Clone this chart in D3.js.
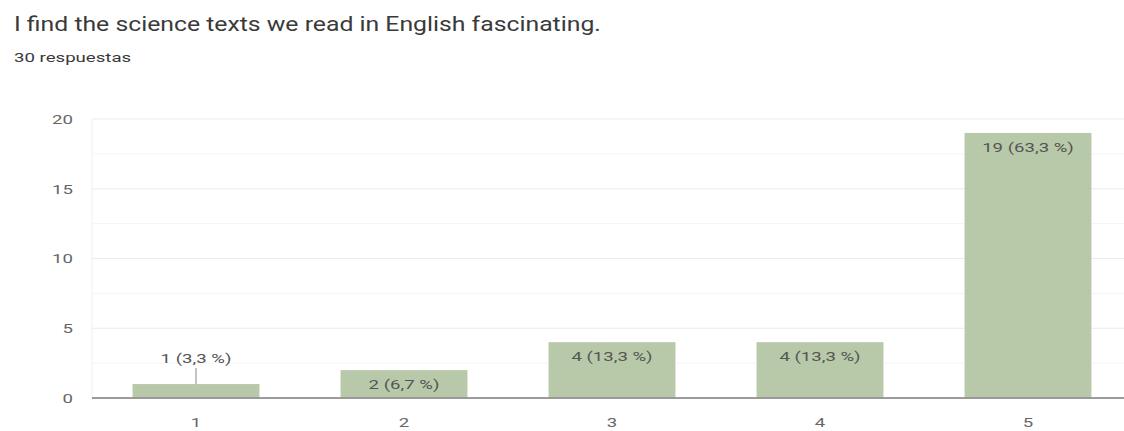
<!DOCTYPE html>
<html>
<head>
<meta charset="utf-8">
<script src="https://cdn.jsdelivr.net/npm/d3@7"></script>
<style>
  body { margin: 0; background: #fff; }
  text { font-family: Roboto, "Noto Sans", sans-serif; }
</style>
</head>
<body>
<svg id="chart" width="1124" height="431"></svg>
<script>
var categories = ["1", "2", "3", "4", "5"];
var counts = [1, 2, 4, 4, 19];
var labels = ["1 (3,3 %)", "2 (6,7 %)", "4 (13,3 %)", "4 (13,3 %)", "19 (63,3 %)"];
var yTicks = [0, 5, 10, 15, 20];
var yMinor = [2.5, 7.5, 12.5, 17.5];

var svg = d3.select("#chart");
var margin = { left: 92, right: -8, top: 119, bottom: 33 };
var width = 1124, height = 431;
var sx = 1.38; // text in the picture is stretched sideways

// stretched text helper
function label(x0, y0, str, size, anchor, color, stretch) {
  var s = stretch || sx;
  return svg.append("text")
    .attr("transform", "scale(" + s + ",1)")
    .attr("x", x0 / s).attr("y", y0)
    .attr("font-size", size)
    .attr("text-anchor", anchor)
    .attr("fill", color)
    .text(str);
}

label(14, 31, "I find the science texts we read in English fascinating.", 21, "start", "#3a3a3a", 1.18);
label(14, 62, "30 respuestas", 13.5, "start", "#3a3a3a");

var x = d3.scaleBand()
  .domain(categories)
  .range([margin.left, width - margin.right])
  .paddingInner(0.39)
  .paddingOuter(0.195);

var y = d3.scaleLinear()
  .domain([0, 20])
  .range([height - margin.bottom, margin.top]);

// grid
svg.selectAll(".minor")
  .data(yMinor)
  .enter()
  .append("line")
  .attr("x1", margin.left).attr("x2", width)
  .attr("y1", function (d) { return y(d); })
  .attr("y2", function (d) { return y(d); })
  .attr("stroke", "#f5f5f5");

svg.selectAll(".major")
  .data(yTicks.slice(1))
  .enter()
  .append("line")
  .attr("x1", margin.left).attr("x2", width)
  .attr("y1", function (d) { return y(d); })
  .attr("y2", function (d) { return y(d); })
  .attr("stroke", "#ebebeb");

svg.append("line")
  .attr("x1", margin.left).attr("x2", margin.left)
  .attr("y1", y(20)).attr("y2", y(0))
  .attr("stroke", "#f0f0f0");

// y labels
yTicks.forEach(function (d) {
  label(73, y(d) + 5, d, 13.5, "end", "#666");
});

// bars
svg.selectAll(".bar")
  .data(counts)
  .enter()
  .append("rect")
  .attr("x", function (d, i) { return x(categories[i]); })
  .attr("y", function (d) { return y(d); })
  .attr("width", x.bandwidth())
  .attr("height", function (d) { return y(0) - y(d); })
  .attr("fill", "#b8c9a9");

// baseline
svg.append("line")
  .attr("x1", margin.left).attr("x2", width)
  .attr("y1", y(0)).attr("y2", y(0))
  .attr("stroke", "#9a9a9a")
  .attr("stroke-width", 2);

// x labels
categories.forEach(function (d) {
  label(x(d) + x.bandwidth() / 2, y(0) + 29, d, 13.5, "middle", "#666");
});

// value labels
counts.forEach(function (d, i) {
  var cx = x(categories[i]) + x.bandwidth() / 2;
  var top = y(d);
  if (d < 2) {
    svg.append("line")
      .attr("x1", cx).attr("x2", cx)
      .attr("y1", top - 16).attr("y2", top)
      .attr("stroke", "#888");
    label(cx, top - 21, labels[i], 13.5, "middle", "#555");
  } else {
    label(cx, top + 19, labels[i], 13.5, "middle", "#555");
  }
});
</script>
</body>
</html>
